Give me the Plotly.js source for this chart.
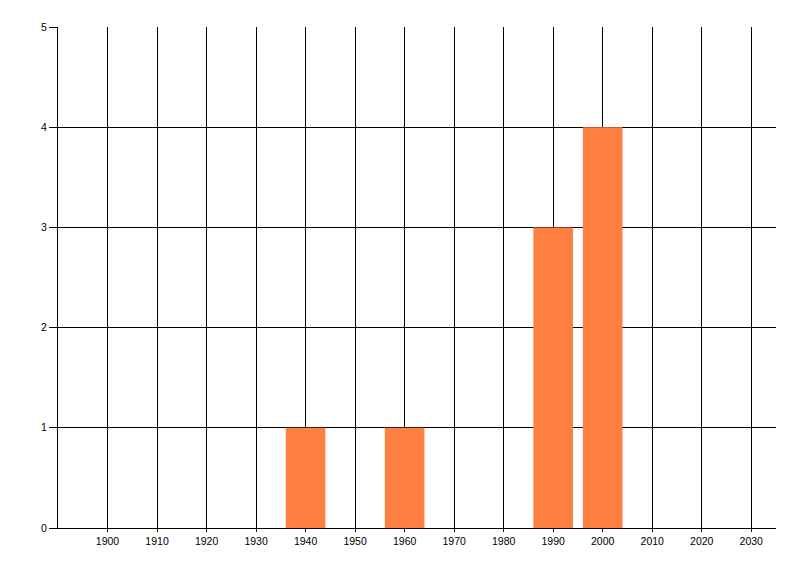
<!DOCTYPE html>
<html><head><meta charset="utf-8">
<script src="https://cdn.plot.ly/plotly-3.0.1.min.js"></script>
<style>html,body{margin:0;padding:0;background:#fff}#c{width:800px;height:576px}</style>
</head><body><div id="c"></div>
<script>
const years = [1940, 1960, 1990, 2000];
const counts = [1, 1, 3, 4];
const xTicks = [1900, 1910, 1920, 1930, 1940, 1950, 1960, 1970, 1980, 1990, 2000, 2010, 2020, 2030];
const yTicks = [0, 1, 2, 3, 4, 5];

const font = {family: '"Liberation Sans", Arial, sans-serif', size: 10.5, color: '#000'};
Plotly.newPlot('c', [{
  type: 'bar', x: years, y: counts, width: 8,
  marker: {color: '#FF7F40', line: {width: 0}}, hoverinfo: 'none'
}], {
  width: 800, height: 576,
  margin: {l: 57.5, r: 24.3, t: 26.5, b: 48.3, pad: 0},
  paper_bgcolor: '#fff', plot_bgcolor: '#fff',
  showlegend: false, font: font,
  xaxis: {
    range: [1890, 2035], tickvals: xTicks, ticktext: xTicks.map(String),
    showgrid: true, gridcolor: '#000', gridwidth: 1,
    showline: true, linecolor: '#000', linewidth: 1,
    ticks: 'outside', ticklen: 3, tickcolor: '#000', tickwidth: 1,
    zeroline: false, tickfont: font
  },
  yaxis: {
    range: [0, 5], tickvals: yTicks, ticktext: yTicks.map(String),
    showgrid: true, gridcolor: '#000', gridwidth: 1,
    showline: true, linecolor: '#000', linewidth: 1,
    ticks: 'outside', ticklen: 8, tickcolor: '#000', tickwidth: 1,
    zeroline: false, tickfont: font
  }
}, {staticPlot: true, displayModeBar: false});
</script></body></html>
